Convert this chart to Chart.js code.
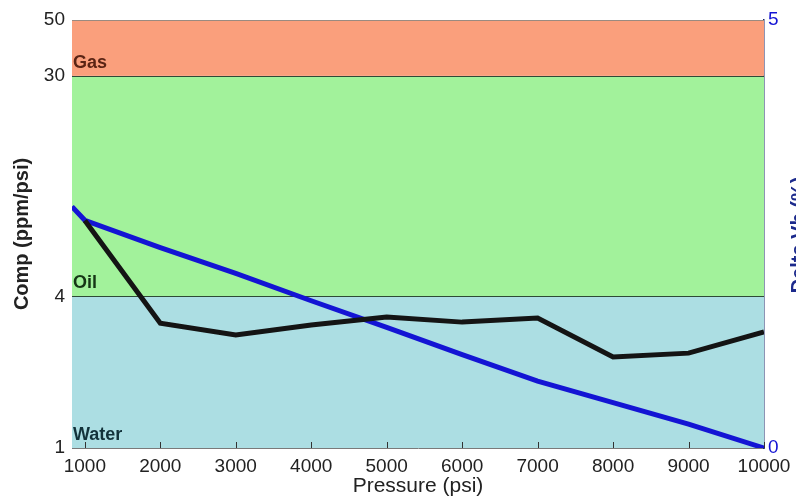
<!DOCTYPE html>
<html lang="en">
<head>
<meta charset="UTF-8">
<title>Comp and Delta Vb vs Pressure</title>
<script src="https://cdn.jsdelivr.net/npm/chart.js"></script>
<style>
  html, body {
    margin: 0;
    padding: 0;
    background: #fff;
    overflow: hidden;
  }
  #chart { display: block; }
</style>
</head>
<body>
<canvas id="chart" width="796" height="502"></canvas>
<script>
  // values
  const pressure = [1000, 2000, 3000, 4000, 5000, 6000, 7000, 8000, 9000, 10000];
  const comp = [8.0, 3.13, 2.81, 3.08, 3.31, 3.16, 3.28, 2.30, 2.38, 2.89];

  const vbPressure = [830, 1000, 2000, 3000, 4000, 5000, 6000, 7000, 8000, 9000, 10000];
  const deltaVb = [2.82, 2.66, 2.34, 2.04, 1.72, 1.41, 1.09, 0.78, 0.53, 0.28, 0];

  const pressureTicks = [1000, 2000, 3000, 4000, 5000, 6000, 7000, 8000, 9000, 10000];
  const compTicks = [1, 4, 30, 50];
  const vbTicks = [0, 5];

  const zoneNames = ["Water", "Oil", "Gas"];
  const zoneLimits = [1, 4, 30, 50];

  const FONT = "'Liberation Sans', Arial, sans-serif";
  const zoneFill = ["#acdee3", "#a2f29b", "#fa9f7c"];
  const zoneText = ["#12323a", "#163616", "#5a2414"];
  const BLUE = "#1414d4";

  const zonePlugin = {
    id: "zones",
    beforeDatasetsDraw(chart) {
      const { ctx, chartArea: a, scales: { y } } = chart;
      ctx.save();
      zoneNames.forEach((name, i) => {
        const top = y.getPixelForValue(zoneLimits[i + 1]);
        const bot = y.getPixelForValue(zoneLimits[i]);
        ctx.fillStyle = zoneFill[i];
        ctx.fillRect(a.left, top, a.right - a.left, bot - top);
      });
      // lines between zones
      ctx.strokeStyle = "#2e4a36";
      ctx.lineWidth = 1;
      zoneLimits.slice(1, -1).forEach(v => {
        const py = Math.round(y.getPixelForValue(v)) + 0.5;
        ctx.beginPath();
        ctx.moveTo(a.left, py);
        ctx.lineTo(a.right, py);
        ctx.stroke();
      });
      // zone names, sitting at the bottom of each band
      ctx.font = "bold 18px " + FONT;
      ctx.textAlign = "left";
      ctx.textBaseline = "alphabetic";
      zoneNames.forEach((name, i) => {
        ctx.fillStyle = zoneText[i];
        ctx.fillText(name, a.left + 1, y.getPixelForValue(zoneLimits[i]) - 8);
      });
      ctx.restore();
    },
    afterDatasetsDraw(chart) {
      const { ctx, chartArea: a, scales: { x } } = chart;
      ctx.save();
      // small inward tick marks on the pressure axis
      ctx.strokeStyle = "#333";
      ctx.lineWidth = 1;
      pressureTicks.forEach(v => {
        const px = Math.round(x.getPixelForValue(v)) + 0.5;
        ctx.beginPath();
        ctx.moveTo(px, a.bottom);
        ctx.lineTo(px, a.bottom - 6);
        ctx.stroke();
      });
      ctx.strokeStyle = "#9a8a80";
      ctx.beginPath();
      ctx.moveTo(a.left, a.top + 0.5);
      ctx.lineTo(a.right, a.top + 0.5);
      ctx.stroke();
      ctx.restore();
    },
    afterDraw(chart) {
      // right axis title, cut by the edge of the picture
      const { ctx, chartArea: a } = chart;
      ctx.save();
      ctx.translate(799, (a.top + a.bottom) / 2 + 1);
      ctx.rotate(-Math.PI / 2);
      ctx.font = "bold 20px " + FONT;
      ctx.fillStyle = "#1c2a8c";
      ctx.textAlign = "center";
      ctx.textBaseline = "middle";
      ctx.fillText("Delta Vb (%)", 0, 0);
      ctx.restore();
    }
  };

  new Chart(document.getElementById("chart"), {
    type: "line",
    data: {
      datasets: [
        {
          label: "Comp",
          data: pressure.map((p, i) => ({ x: p, y: comp[i] })),
          yAxisID: "y",
          borderColor: "#141414",
          borderWidth: 5,
          pointRadius: 0,
          tension: 0
        },
        {
          label: "Delta Vb",
          data: vbPressure.map((p, i) => ({ x: p, y: deltaVb[i] })),
          yAxisID: "y2",
          borderColor: BLUE,
          borderWidth: 5,
          pointRadius: 0,
          tension: 0
        }
      ]
    },
    options: {
      responsive: false,
      animation: false,
      layout: { padding: { top: 20 } },
      plugins: {
        legend: { display: false },
        tooltip: { enabled: false }
      },
      scales: {
        x: {
          type: "linear",
          min: 830,
          max: 10000,
          afterBuildTicks: s => { s.ticks = pressureTicks.map(v => ({ value: v })); },
          afterFit: s => { s.height = 54; s.paddingLeft = 0; s.paddingRight = 0; },
          ticks: {
            font: { size: 19, family: FONT },
            color: "#222",
            padding: 7,
            maxRotation: 0,
            autoSkip: false,
            callback: v => String(v)
          },
          grid: { drawOnChartArea: false, drawTicks: false },
          border: { color: "#7a7a7a" },
          title: {
            display: true,
            text: "Pressure (psi)",
            font: { size: 21, family: FONT },
            color: "#222",
            padding: { top: 0, bottom: 3 }
          }
        },
        y: {
          type: "logarithmic",
          position: "left",
          min: 1,
          max: 50,
          afterBuildTicks: s => { s.ticks = compTicks.map(v => ({ value: v })); },
          afterFit: s => { s.width = 72; },
          ticks: {
            font: { size: 19, family: FONT },
            color: "#222",
            padding: 7,
            callback: v => String(v)
          },
          grid: { drawOnChartArea: false, drawTicks: false },
          border: { color: "#7a7a7a" },
          title: {
            display: true,
            text: "Comp (ppm/psi)",
            font: { size: 20, weight: "bold", family: FONT },
            color: "#222",
            padding: { top: 10, bottom: 0 }
          }
        },
        y2: {
          type: "linear",
          position: "right",
          min: 0,
          max: 5,
          afterBuildTicks: s => { s.ticks = vbTicks.map(v => ({ value: v })); },
          afterFit: s => { s.width = 32; },
          ticks: {
            font: { size: 19, family: FONT },
            color: BLUE,
            padding: 4
          },
          grid: { drawOnChartArea: false, drawTicks: false },
          border: { color: "#1c2a6a", width: 1.5 }
        }
      }
    },
    plugins: [zonePlugin]
  });
</script>
</body>
</html>
